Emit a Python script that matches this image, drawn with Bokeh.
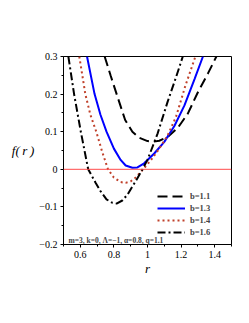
from bokeh.plotting import figure
from bokeh.models import Range1d, FixedTicker, Label, Legend, LegendItem, Span
from bokeh.embed import file_html
from bokeh.resources import INLINE

# b = 1.1 (dashed)
r_b11 = [0.745, 0.78, 0.82, 0.867, 0.91, 0.95, 1.00, 1.03, 1.07, 1.12, 1.18, 1.24, 1.30, 1.36, 1.41]
f_b11 = [0.300, 0.250, 0.195, 0.131, 0.100, 0.084, 0.075, 0.073, 0.076, 0.086, 0.110, 0.148, 0.205, 0.255, 0.300]

# b = 1.3 (solid blue)
r_b13 = [0.640, 0.685, 0.72, 0.756, 0.80, 0.84, 0.87, 0.91, 0.94, 0.98, 1.04, 1.10, 1.16, 1.22, 1.28, 1.33]
f_b13 = [0.300, 0.200, 0.145, 0.100, 0.055, 0.025, 0.010, 0.004, 0.005, 0.016, 0.042, 0.073, 0.115, 0.170, 0.240, 0.300]

# b = 1.4 (dotted)
r_b14 = [0.594, 0.63, 0.66, 0.695, 0.73, 0.765, 0.80, 0.84, 0.87, 0.90, 0.93, 0.97, 1.02, 1.07, 1.12, 1.17, 1.224, 1.285]
f_b14 = [0.300, 0.200, 0.145, 0.100, 0.047, 0.000, -0.022, -0.034, -0.036, -0.032, -0.022, -0.002, 0.024, 0.055, 0.090, 0.140, 0.220, 0.300]

# b = 1.6 (dash-dot)
r_b16 = [0.529, 0.563, 0.603, 0.647, 0.69, 0.72, 0.756, 0.79, 0.816, 0.85, 0.88, 0.91, 0.94, 0.97, 1.00, 1.06, 1.12, 1.17, 1.21]
f_b16 = [0.300, 0.200, 0.100, 0.000, -0.035, -0.058, -0.080, -0.089, -0.091, -0.083, -0.068, -0.046, -0.024, 0.000, 0.025, 0.095, 0.180, 0.245, 0.300]

legend_labels = ["b=1.1", "b=1.3", "b=1.4", "b=1.6"]
y_ticks = [-0.2, -0.1, 0, 0.1, 0.2, 0.3]
x_ticks = [0.6, 0.8, 1.0, 1.2, 1.4]
annotation = "m=3, k=0, \u039b=\u22121, \u03b1=0.8, q=1.1"

SERIF = "Liberation Serif"

p = figure(width=241, height=308, output_backend="svg", toolbar_location=None,
           x_range=Range1d(0.5, 1.5), y_range=Range1d(-0.2, 0.3),
           min_border_left=63, min_border_right=10, min_border_top=56, min_border_bottom=64)
p.grid.visible = False
p.outline_line_color = "black"
p.outline_line_width = 1
p.background_fill_color = "white"
p.border_fill_color = "white"

p.yaxis.ticker = FixedTicker(ticks=y_ticks, minor_ticks=[-0.15, -0.05, 0.05, 0.15, 0.25])
p.xaxis.ticker = FixedTicker(ticks=x_ticks, minor_ticks=[0.5, 0.7, 0.9, 1.1, 1.3, 1.5])
p.yaxis.major_label_overrides = {0: "0", -0.1: "\u22120.1", -0.2: "\u22120.2"}
for ax in (p.xaxis, p.yaxis):
    ax.major_label_text_font = SERIF
    ax.major_label_text_font_size = "10px"
    ax.major_label_text_color = "black"
    ax.axis_line_color = "black"
    ax.major_tick_line_color = "black"
    ax.minor_tick_line_color = "black"
    ax.major_tick_out = 3
    ax.major_tick_in = 0
    ax.minor_tick_out = 2
    ax.minor_tick_in = 0
    ax.major_label_standoff = 3
    ax.axis_label_text_color = "black"
    ax.axis_label_text_font = SERIF
    ax.axis_label_text_font_style = "italic"

p.xaxis.axis_label = "r"
p.xaxis.axis_label_text_font_size = "13px"
p.xaxis.axis_label_standoff = 0

p.yaxis.axis_label = "f(\u2009r\u2009)"
p.yaxis.axis_label_orientation = "horizontal"
p.yaxis.axis_label_text_font_size = "13px"
p.yaxis.axis_label_standoff = 2

zero = Span(location=0, dimension="width", line_color="#ff4a4a", line_width=1)
p.add_layout(zero)

l1 = p.line(r_b11, f_b11, line_color="black", line_width=2, line_dash="10 5")
l2 = p.line(r_b13, f_b13, line_color="#0000ff", line_width=2)
l3 = p.line(r_b14, f_b14, line_color="#c0402a", line_width=2, line_dash="2 3")
l4 = p.line(r_b16, f_b16, line_color="black", line_width=2, line_dash="8 3 2 3")

legend = Legend(items=[LegendItem(label=lab, renderers=[r]) for lab, r in
                       zip(legend_labels, [l1, l2, l3, l4])],
                location=(94, 6), orientation="vertical",
                glyph_width=28, glyph_height=12, label_height=12, spacing=0,
                label_standoff=5, padding=0, margin=0,
                border_line_color=None, background_fill_alpha=0,
                label_text_font=SERIF, label_text_font_style="bold",
                label_text_font_size="8.5px")
p.add_layout(legend)

p.add_layout(Label(x=0.53, y=-0.189, text=annotation, text_font=SERIF,
                   text_font_style="bold", text_font_size="7.5px", text_baseline="middle"))

open("out.html", "w").write(file_html(p, INLINE))
